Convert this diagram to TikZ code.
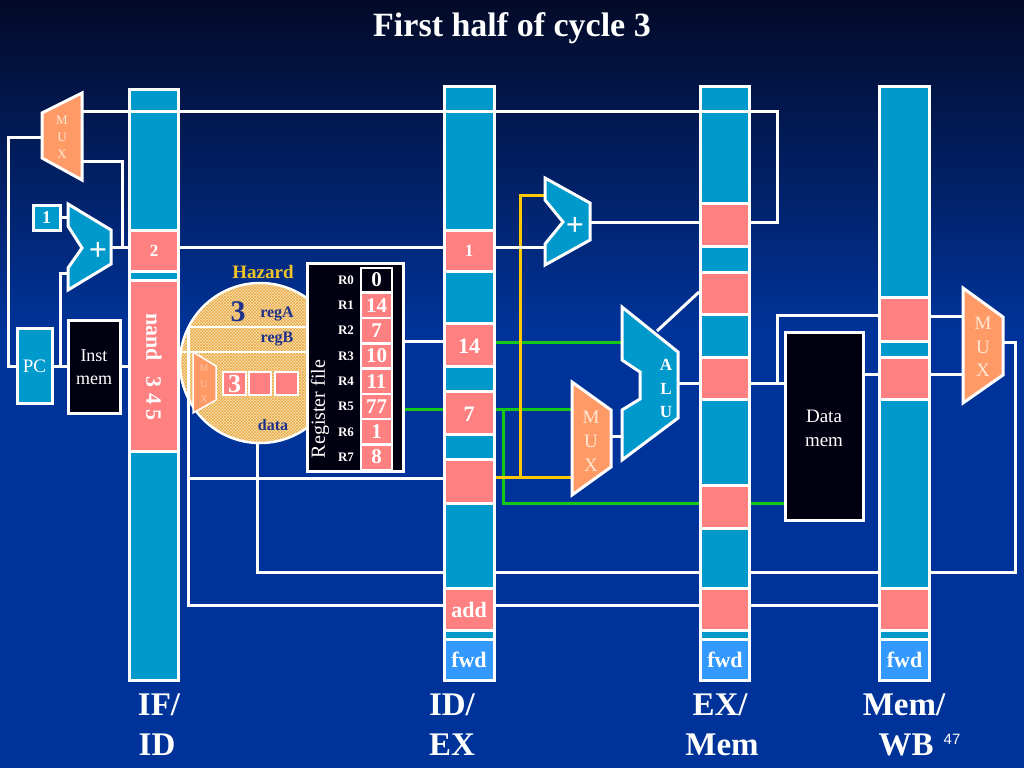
\documentclass[tikz,border=0pt]{standalone}
\usepackage{fontspec}
\setmainfont{Liberation Serif}
\newfontfamily\sansf{Liberation Sans}
\usetikzlibrary{patterns}
\definecolor{bgtop}{RGB}{3,10,40}
\definecolor{bgbot}{RGB}{0,51,153}
\definecolor{cblue}{RGB}{0,153,204}
\definecolor{cpink}{RGB}{255,128,128}
\definecolor{cfwd}{RGB}{51,153,255}
\definecolor{corange}{RGB}{255,153,102}
\definecolor{cmuxtxt}{RGB}{255,232,210}
\definecolor{cmuxsm}{RGB}{250,195,160}
\definecolor{cgold}{RGB}{240,195,40}
\definecolor{cnavy}{RGB}{30,50,140}
\definecolor{cgreen}{RGB}{20,200,20}
\definecolor{cyel}{RGB}{255,200,0}
\definecolor{ccream}{RGB}{250,226,172}
\definecolor{chatch}{RGB}{232,168,72}
\definecolor{cblack}{RGB}{0,0,16}
\begin{document}
\begin{tikzpicture}[x=1pt,y=-1pt,
  wire/.style={white,line width=3pt},
  gwire/.style={cgreen,line width=3pt},
  ywire/.style={cyel,line width=3pt},
  unit/.style={draw=white,line width=3pt,line join=miter},
  lbl/.style={text=white,inner sep=0pt,font=\bfseries\fontsize{17}{17}\selectfont},
  mlbl/.style={text=white,inner sep=0pt,font=\bfseries\fontsize{22}{22}\selectfont},
  plain/.style={text=white,inner sep=0pt,font=\fontsize{19}{21}\selectfont,align=center},
  muxt/.style={text=cmuxtxt,inner sep=0pt,font=\fontsize{19}{19}\selectfont},
  big/.style={text=white,inner sep=0pt,anchor=base,font=\bfseries\fontsize{33}{33}\selectfont},
  navyt/.style={text=cnavy,inner sep=0pt,font=\bfseries\fontsize{16}{16}\selectfont},
  rlab/.style={text=white,inner sep=0pt,font=\bfseries\fontsize{13}{13}\selectfont},
  rval/.style={text=white,inner sep=0pt,font=\bfseries\fontsize{21}{21}\selectfont}]
\useasboundingbox (0,0) rectangle (1024,768);
% background
\fill[bgbot] (0,0) rectangle (1024,768);
\shade[top color=bgtop,bottom color=bgbot] (0,0) rectangle (1024,330);

% hazard circle
\fill[ccream] (260,363) circle (80);
\fill[pattern=crosshatch,pattern color=chatch] (260,363) circle (80);
\draw[white,line width=2.5pt] (260,363) circle (80);
\begin{scope}
  \clip (260,363) circle (80);
  \draw[white,line width=2.5pt] (188,327) -- (345,327);
  \draw[white,line width=2.5pt] (175,352) -- (345,352);
\end{scope}
\coordinate (hzbot) at (257,443);

% wires behind units
\draw[wire] (1003,342) -- (1015,342) -- (1015,572) -- (257,572) -- (hzbot);
\draw[wire] (188,327) -- (188,605) -- (878,605);
\draw[wire] (188,478) -- (443,478);
\draw[gwire] (503,409) -- (503,503) -- (785,503);
\draw[gwire] (403,409) -- (443,409);
\draw[gwire] (496,409) -- (572,409);
\draw[gwire] (496,342) -- (622,342);
\draw[ywire] (496,477) -- (572,477);
\draw[ywire] (520,477) -- (520,195) -- (545,195);
\draw[wire] (42,137) -- (8,137) -- (8,366) -- (17,366);
\draw[wire] (110,247) -- (128,247);
\draw[wire] (122,247) -- (122,161) -- (82,161);
\draw[wire] (60,217) -- (68,217);
\draw[wire] (52,366) -- (68,366);
\draw[wire] (60,366) -- (60,273) -- (68,273);
\draw[wire] (120,366) -- (128,366);
\draw[wire] (180,247) -- (443,247);
\draw[wire] (496,247) -- (545,247);
\draw[wire] (590,222) -- (699,222);
\draw[wire] (403,341) -- (443,341);
\draw[wire] (611,436) -- (622,436);
\draw[wire] (678,383) -- (699,383);
\draw[wire] (657,331) -- (699,292);
\draw[wire] (751,383) -- (785,383);
\draw[wire] (777,383) -- (777,315) -- (878,315);
\draw[wire] (863,374) -- (878,374);
\draw[wire] (931,316) -- (963,316);
\draw[wire] (931,374) -- (963,374);

% register file
\draw[white,line width=3pt,fill=cblack] (307,263) rectangle (403,471);
\node[rotate=90,text=white,inner sep=0pt,font=\fontsize{20}{20}\selectfont] (rft) at (320,409) {Register file};
\foreach \i/\v in {0/0,1/14,2/7,3/10,4/11,5/77,6/1,7/8}{
  \pgfmathsetmacro{\yy}{280+25.3*\i}
  \ifnum\i=0
    \draw[white,line width=2pt,fill=cblack] (361,\yy-12.4) rectangle (392,\yy+12.4);
  \else
    \draw[white,line width=2pt,fill=cpink] (361,\yy-12.4) rectangle (392,\yy+12.4);
  \fi
  \node[rlab] (rl\i) at (346,\yy) {R\i};
  \node[rval] (rv\i) at (376.5,\yy) {\v};
}

% pipeline registers
\fill[white] (128,88) rectangle (180,682);
\foreach \a/\b/\c in {91/229/cblue,232/270/cpink,273/279/cblue,282/450/cpink,453/679/cblue}
  \fill[\c] (131,\a) rectangle (177,\b);
\fill[white] (443,85) rectangle (496,682);
\foreach \a/\b/\c in {88/229/cblue,232/270/cpink,273/322/cblue,325/365/cpink,368/390/cblue,393/433/cpink,436/458/cblue,461/502/cpink,505/587/cblue,590/629/cpink,632/638/cblue,641/679/cfwd}
  \fill[\c] (446,\a) rectangle (493,\b);
\fill[white] (699,85) rectangle (751,682);
\foreach \a/\b/\c in {88/202/cblue,205/245/cpink,248/271/cblue,274/313/cpink,316/356/cblue,359/398/cpink,401/484/cblue,487/527/cpink,530/587/cblue,590/629/cpink,632/638/cblue,641/679/cfwd}
  \fill[\c] (702,\a) rectangle (748,\b);
\fill[white] (878,85) rectangle (931,682);
\foreach \a/\b/\c in {88/296/cblue,299/340/cpink,343/356/cblue,359/398/cpink,401/587/cblue,590/629/cpink,632/638/cblue,641/679/cfwd}
  \fill[\c] (881,\a) rectangle (928,\b);

% units
\draw[unit,fill=corange] (42,113) -- (82,93) -- (82,180) -- (42,158) -- cycle;
\draw[unit,fill=cblue] (68,204) -- (111,230) -- (111,264) -- (68,290) -- (68,268) -- (82,248) -- (68,226) -- cycle;
\draw[unit,fill=cblue] (33,205) rectangle (60,230);
\draw[unit,fill=cblue] (17,328) rectangle (52,403);
\draw[unit,fill=cblack] (68,320) rectangle (120,413);
\draw[unit,fill=cblue] (545,178) -- (590,203) -- (590,240) -- (545,265) -- (545,244) -- (563,222) -- (545,200) -- cycle;
\draw[unit,fill=cblue] (622,307) -- (678,352) -- (678,418) -- (622,460) -- (622,410) -- (640,399) -- (640,372) -- (622,360) -- cycle;
\draw[unit,fill=corange] (572,382) -- (611,410) -- (611,467) -- (572,495) -- cycle;
\draw[unit,fill=cblack] (785,332) rectangle (863,520);
\draw[unit,fill=corange] (963,288) -- (1003,317) -- (1003,375) -- (963,403) -- cycle;
% small mux and registers in hazard unit
\draw[white,line width=1.5pt,fill=corange] (193,352) -- (216,366) -- (216,400) -- (193,413) -- cycle;
\draw[white,line width=2pt,fill=cpink] (223,372) rectangle (246,395);
\draw[white,line width=2pt,fill=cpink] (249,372) rectangle (271,395);
\draw[white,line width=2pt,fill=cpink] (275,372) rectangle (298,395);

% branch target wire over the registers
\draw[wire] (82,111) -- (777,111) -- (777,222) -- (751,222);

% texts
\node[text=white,inner sep=0pt,anchor=base,font=\bfseries\fontsize{34}{34}\selectfont] (title) at (512,37) {First half of cycle 3};
\node[muxt,font=\fontsize{13}{13}\selectfont] (m1a) at (62,120) {M};
\node[muxt,font=\fontsize{13}{13}\selectfont] (m1b) at (62,137) {U};
\node[muxt,font=\fontsize{13}{13}\selectfont] (m1c) at (62,154) {X};
\node[lbl,font=\bfseries\fontsize{18}{18}\selectfont] (one) at (46.5,217.5) {1};
\node[lbl,font=\bfseries\fontsize{32}{32}\selectfont] (plus1) at (98,251) {+};
\node[plain] (pc) at (34.5,366) {PC};
\node[plain,font=\fontsize{18}{23}\selectfont] (imem) at (94,367) {Inst\\mem};
\node[lbl] (v2) at (154,251) {2};
\node[mlbl,rotate=-90] (nand) at (154,367) {nand\hspace{0.7em}3 4 5};
\node[lbl] (v1) at (469,251) {1};
\node[mlbl] (v14) at (469,346) {14};
\node[mlbl] (v7) at (469,414) {7};
\node[mlbl] (vadd) at (469,610) {add};
\node[mlbl] (fwd1) at (469,660) {fwd};
\node[mlbl] (fwd2) at (725,660) {fwd};
\node[mlbl] (fwd3) at (904.5,660) {fwd};
\node[lbl,font=\bfseries\fontsize{32}{32}\selectfont] (plus2) at (575,226) {+};
\node[muxt] (m2a) at (591,417) {M};
\node[muxt] (m2b) at (591,441) {U};
\node[muxt] (m2c) at (591,465) {X};
\node[lbl] (alua) at (666,365) {A};
\node[lbl] (alub) at (666,389) {L};
\node[lbl] (aluc) at (666,412) {U};
\node[plain,font=\fontsize{19}{24}\selectfont] (dmem) at (824,428) {Data\\mem};
\node[muxt] (m3a) at (983,323) {M};
\node[muxt] (m3b) at (983,347) {U};
\node[muxt] (m3c) at (983,370) {X};
\node[text=cgold,inner sep=0pt,font=\bfseries\fontsize{19}{19}\selectfont] (haz) at (263,272) {Hazard};
\node[navyt,font=\bfseries\fontsize{30}{30}\selectfont] (h3) at (238,312) {3};
\node[navyt] (rega) at (277,314) {regA};
\node[navyt] (regb) at (277,339) {regB};
\node[navyt] (hdata) at (273,425) {data};
\node[text=cmuxsm,inner sep=0pt,font=\fontsize{10}{10}\selectfont] (m4a) at (204,368) {M};
\node[text=cmuxsm,inner sep=0pt,font=\fontsize{10}{10}\selectfont] (m4b) at (204,384) {U};
\node[text=cmuxsm,inner sep=0pt,font=\fontsize{10}{10}\selectfont] (m4c) at (204,399) {X};
\node[lbl,font=\bfseries\fontsize{26}{26}\selectfont] (b3) at (234.5,384) {3};
% stage labels
\node[big] (l1a) at (159,715) {IF/};
\node[big] (l1b) at (157,755) {ID};
\node[big] (l2a) at (452,715) {ID/};
\node[big] (l2b) at (452,755) {EX};
\node[big] (l3a) at (720,715) {EX/};
\node[big] (l3b) at (722,755) {Mem};
\node[big] (l4a) at (904,715) {Mem/};
\node[big] (l4b) at (906,755) {WB};
\node[text=white,inner sep=0pt,anchor=base,font=\sansf\fontsize{15}{15}\selectfont] (pg) at (952,744) {47};
\end{tikzpicture}
\end{document}
